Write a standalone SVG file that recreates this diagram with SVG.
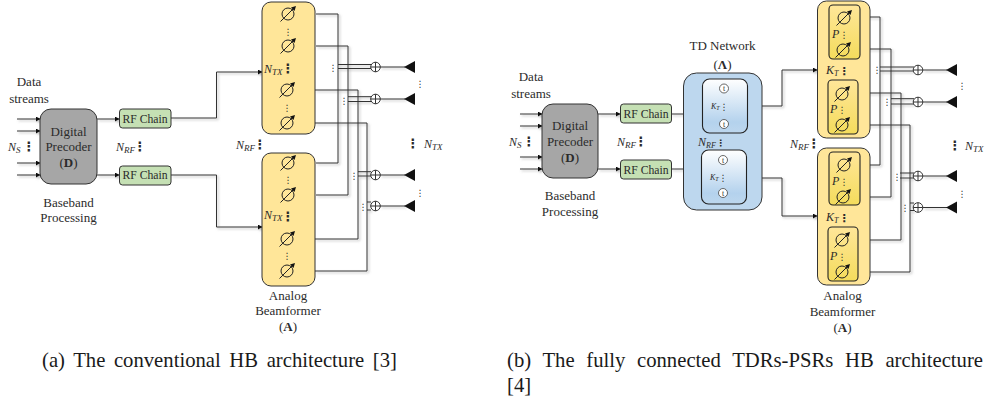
<svg xmlns="http://www.w3.org/2000/svg" width="986" height="400" viewBox="0 0 986 400">
<style>
text{font-family:"Liberation Serif","Times New Roman",serif;font-size:13px;fill:#2b2b2b;text-anchor:middle}
.rf{font-size:11.7px}
.m{font-style:italic;text-anchor:start;font-size:12px}
.s{font-size:9px;font-style:italic}
.d{font-family:"DejaVu Sans",sans-serif;font-size:13px;font-weight:bold}
.kd{font-family:"DejaVu Sans",sans-serif;font-size:11px;font-weight:bold}
.dd{font-family:"DejaVu Sans",sans-serif;font-size:9px}
.cap{font-size:20.7px;text-anchor:start;fill:#1a1a1a}
.w{fill:none;stroke:#333;stroke-width:1}
.y{fill:#ffe699;stroke:#333;stroke-width:1}
.g{fill:#c5e0b4;stroke:#333;stroke-width:1}
.p{fill:#a6a6a6;stroke:#333;stroke-width:1}
.b{fill:#bdd7ee;stroke:#333;stroke-width:1}
.iy{fill:url(#gy);stroke:#222;stroke-width:1.1}
.ib{fill:url(#gb);stroke:#222;stroke-width:1.1}
.ps{fill:none;stroke:#222;stroke-width:1}
</style>
<defs>
<linearGradient id="gy" x1="0" y1="0" x2="0" y2="1"><stop offset="0" stop-color="#ffe699"/><stop offset="1" stop-color="#f4dc5c"/></linearGradient>
<linearGradient id="gb" x1="0" y1="0" x2="0" y2="1"><stop offset="0" stop-color="#ffffff"/><stop offset="0.8" stop-color="#b4d2ed"/><stop offset="1" stop-color="#bdd7ee"/></linearGradient>
<filter id="sh" x="-10%" y="-10%" width="120%" height="120%"><feDropShadow dx="1.5" dy="1.5" stdDeviation="1" flood-color="#777" flood-opacity=".55"/></filter>
<marker id="a" markerWidth="5" markerHeight="5" refX="4" refY="2.5" orient="auto" markerUnits="userSpaceOnUse"><path d="M0 0L4.5 2.5L0 5z" fill="#111"/></marker>
<g id="shifter"><circle r="6" class="ps"/><path d="M-7.5 7.5L6 -6" class="ps"/><path d="M8 -8L3 -6.5L6.500 -3z" fill="#111"/></g>
<g id="comb"><circle r="4.800" fill="#fff" stroke="#333"/><path d="M-4.800 0H4.800M0 -4.800V4.800" stroke="#333" fill="none"/></g>
<path id="ant" d="M0 0L11 -6V6z" fill="#111"/>
<g id="timer"><circle r="4.500" fill="#fff" stroke="#444" stroke-width=".8"/><text y="2.800" style="font-size:8px">t</text></g>
</defs>
<rect width="986" height="400" fill="#fff"/>

<g id="connectors-a" filter="url(#sh)">
<path d="M17 119H40" class="w" marker-end="url(#a)"/><path d="M17 131H40" class="w" marker-end="url(#a)"/><path d="M17 163H40" class="w" marker-end="url(#a)"/><path d="M17 175H40" class="w" marker-end="url(#a)"/>
<path d="M97 119H119" class="w" marker-end="url(#a)"/><path d="M97 175H119" class="w" marker-end="url(#a)"/>
<path d="M171 118H216.500V72H262" class="w" marker-end="url(#a)"/>
<path d="M171 175H216.500V227H262" class="w" marker-end="url(#a)"/>
<path d="M316 14H338V163H316M316 46H348V195H316M315 90H358V239H315M315 123H367V271H315" class="w"/>
<path d="M338 64.500H371M338 68.500H371M348 96.700H371M348 101.500H371M358 171.700H371M358 176H371M367 202H371M367 210H371" class="w"/>
<path d="M380 67H405M380 99H405M380 175H405M380 206H405" class="w"/>
</g>

<g id="precoder-a"><rect x="40" y="109" width="57" height="75" rx="11" class="p"/><text x="68.500" y="136">Digital</text><text x="68.500" y="151">Precoder</text><text x="68.500" y="167">(<tspan font-weight="bold">D</tspan>)</text></g>
<g id="rf-a1"><rect x="119.500" y="109" width="51.500" height="19" rx="3" class="g"/><text class="rf" x="145" y="123">RF Chain</text></g>
<g id="rf-a2"><rect x="119.500" y="166" width="51.500" height="19" rx="3" class="g"/><text class="rf" x="145" y="179">RF Chain</text></g>
<g id="ab-a1"><rect x="262" y="2" width="53" height="132" rx="9" class="y"/>
<use href="#shifter" x="288" y="14"/><use href="#shifter" x="288" y="46"/><use href="#shifter" x="287" y="90"/><use href="#shifter" x="287" y="123"/>
<text class="dd" x="288" y="35">⋮</text><text class="dd" x="287" y="111">⋮</text></g>
<g id="ab-a2"><rect x="262" y="153" width="53" height="133" rx="9" class="y"/>
<use href="#shifter" x="288" y="163"/><use href="#shifter" x="288" y="195"/><use href="#shifter" x="287" y="239"/><use href="#shifter" x="287" y="271"/>
<text class="dd" x="288" y="183">⋮</text><text class="dd" x="287" y="259">⋮</text></g>
<g id="combiners-a"><use href="#comb" x="375.500" y="67"/><use href="#comb" x="375.500" y="99"/><use href="#comb" x="375.500" y="175"/><use href="#comb" x="375.500" y="206"/></g>
<g id="antennas-a"><use href="#ant" x="404" y="67"/><use href="#ant" x="404" y="99"/><use href="#ant" x="404" y="175"/><use href="#ant" x="404" y="206"/></g>
<g id="labels-a">
<text x="29" y="86">Data</text><text x="29" y="103">streams</text>
<text x="68.500" y="207">Baseband</text><text x="68.500" y="222">Processing</text>
<text x="288" y="300">Analog</text><text x="288" y="315">Beamformer</text><text x="288" y="331">(<tspan font-weight="bold">A</tspan>)</text>
<text class="m" x="8" y="151">N<tspan class="s" dy="2">S</tspan></text><text class="d" x="29" y="151">⋮</text>
<text class="m" x="116" y="151">N<tspan class="s" dy="2">RF</tspan></text><text class="d" x="140" y="151">⋮</text>
<text class="m" x="236" y="149">N<tspan class="s" dy="2">RF</tspan></text><text class="d" x="260" y="149">⋮</text>
<text class="m" x="264" y="73">N<tspan class="s" dy="2">TX</tspan></text><text class="d" x="288" y="73">⋮</text>
<text class="m" x="264" y="219">N<tspan class="s" dy="2">TX</tspan></text><text class="d" x="288" y="221">⋮</text>
<text class="m" x="424" y="148">N<tspan class="s" dy="2">TX</tspan></text><text class="d" x="413" y="148">⋮</text>
<text class="dd" x="420" y="87">⋮</text><text class="dd" x="420" y="196">⋮</text>
<text class="dd" x="333" y="71">⋮</text><text class="dd" x="344" y="104">⋮</text><text class="dd" x="354" y="179">⋮</text><text class="dd" x="363" y="210">⋮</text>
</g>

<g id="connectors-b" filter="url(#sh)">
<path d="M520 114H542" class="w" marker-end="url(#a)"/><path d="M520 126H542" class="w" marker-end="url(#a)"/><path d="M520 157H542" class="w" marker-end="url(#a)"/><path d="M520 169H542" class="w" marker-end="url(#a)"/>
<path d="M598 114H620" class="w" marker-end="url(#a)"/><path d="M598 169H620" class="w" marker-end="url(#a)"/>
<path d="M671 114H686V106H702" class="w" marker-end="url(#a)"/>
<path d="M671 169H686V178H701" class="w" marker-end="url(#a)"/>
<path d="M747 106H782V70H817" class="w" marker-end="url(#a)"/>
<path d="M746 178H782V216H817" class="w" marker-end="url(#a)"/>
<path d="M860 17H880V165H860M860 49H891V197H860M858 93H901V240H858M858 125H910V272H858" class="w"/>
<path d="M880 67H914M880 71H914M891 98.700H914M891 104H914M900 173H914M900 178H914M910 203H914M910 210.500H914" class="w"/>
<path d="M923 70H947M923 102H947M923 176H947M923 207.500H947" class="w"/>
</g>

<g id="precoder-b"><rect x="542" y="104" width="56" height="74" rx="11" class="p"/><text x="570" y="130">Digital</text><text x="570" y="146">Precoder</text><text x="570" y="162">(<tspan font-weight="bold">D</tspan>)</text></g>
<g id="rf-b1"><rect x="620.500" y="104" width="51" height="19" rx="3" class="g"/><text class="rf" x="646" y="118">RF Chain</text></g>
<g id="rf-b2"><rect x="620.500" y="160" width="51" height="19" rx="3" class="g"/><text class="rf" x="646" y="174">RF Chain</text></g>
<g id="td"><rect x="683.500" y="73" width="78.500" height="137" rx="13" class="b"/>
<rect x="702.500" y="79" width="45" height="54" rx="7" class="ib"/><rect x="701.500" y="150" width="45" height="54" rx="7" class="ib"/>
<use href="#timer" x="724" y="88.500"/><use href="#timer" x="724" y="124"/><use href="#timer" x="723" y="160"/><use href="#timer" x="723" y="193"/>
<text class="m" x="711" y="109" style="font-size:8px">K<tspan dy="1" style="font-size:6px">T</tspan></text><text class="dd" x="724" y="110">⋮</text>
<text class="m" x="710" y="180" style="font-size:8px">K<tspan dy="1" style="font-size:6px">T</tspan></text><text class="dd" x="723" y="181">⋮</text>
<text x="722.500" y="50">TD Network</text><text x="722.500" y="69">(<tspan font-weight="bold">Λ</tspan>)</text>
<text class="m" x="698" y="146">N<tspan class="s" dy="2" style="font-size:8px">RF</tspan></text><text class="dd" x="720.500" y="146" font-weight="bold">⋮</text>
</g>
<g id="ab-b1"><rect x="817.500" y="1" width="52.500" height="137" rx="9" class="y"/>
<rect x="829" y="5" width="31" height="54" rx="4" class="iy"/><rect x="828" y="80" width="30" height="54" rx="4" class="iy"/>
<use href="#shifter" x="844" y="18"/><use href="#shifter" x="843" y="50"/><use href="#shifter" x="842" y="94"/><use href="#shifter" x="842" y="125"/>
<text class="m" x="832" y="38">P</text><text class="dd" x="844" y="38">⋮</text><text class="m" x="830" y="113">P</text><text class="dd" x="842" y="113">⋮</text>
<text class="m" x="826" y="74">K<tspan class="s" dy="2" style="font-size:8px">T</tspan></text><text class="kd" x="844" y="75">⋮</text></g>
<g id="ab-b2"><rect x="817.500" y="148" width="52.500" height="137" rx="9" class="y"/>
<rect x="829" y="152" width="31" height="53" rx="4" class="iy"/><rect x="828" y="227" width="30" height="54" rx="4" class="iy"/>
<use href="#shifter" x="844" y="165"/><use href="#shifter" x="843" y="197"/><use href="#shifter" x="842" y="240"/><use href="#shifter" x="842" y="272"/>
<text class="m" x="832" y="185">P</text><text class="dd" x="844" y="185">⋮</text><text class="m" x="830" y="260">P</text><text class="dd" x="842" y="260">⋮</text>
<text class="m" x="826" y="221">K<tspan class="s" dy="2" style="font-size:8px">T</tspan></text><text class="kd" x="844" y="222">⋮</text></g>
<g id="combiners-b"><use href="#comb" x="918" y="70"/><use href="#comb" x="918" y="102"/><use href="#comb" x="918" y="176"/><use href="#comb" x="918" y="207.500"/></g>
<g id="antennas-b"><use href="#ant" x="946" y="70"/><use href="#ant" x="946" y="102"/><use href="#ant" x="946" y="176"/><use href="#ant" x="946" y="207.500"/></g>
<g id="labels-b">
<text x="531" y="81">Data</text><text x="531" y="98">streams</text>
<text x="570" y="200">Baseband</text><text x="570" y="216">Processing</text>
<text x="842.500" y="300">Analog</text><text x="842.500" y="316">Beamformer</text><text x="842.500" y="332">(<tspan font-weight="bold">A</tspan>)</text>
<text class="m" x="509" y="146">N<tspan class="s" dy="2">S</tspan></text><text class="d" x="529" y="146">⋮</text>
<text class="m" x="617" y="146">N<tspan class="s" dy="2">RF</tspan></text><text class="d" x="641" y="146">⋮</text>
<text class="m" x="790" y="148">N<tspan class="s" dy="2">RF</tspan></text><text class="d" x="814" y="148">⋮</text>
<text class="m" x="965" y="150">N<tspan class="s" dy="2">TX</tspan></text><text class="d" x="955" y="150">⋮</text>
<text class="dd" x="962" y="89">⋮</text><text class="dd" x="962" y="197">⋮</text>
<text class="dd" x="877" y="73">⋮</text><text class="dd" x="887" y="105">⋮</text><text class="dd" x="897" y="180">⋮</text><text class="dd" x="905" y="211">⋮</text>
</g>

<g id="captions">
<text class="cap" x="42" y="367" style="word-spacing:3.4px">(a) The conventional HB architecture [3]</text>
<text class="cap" x="507" y="367" style="word-spacing:6.5px">(b) The fully connected TDRs-PSRs HB architecture</text>
<text class="cap" x="507" y="392">[4]</text>
</g>
</svg>
